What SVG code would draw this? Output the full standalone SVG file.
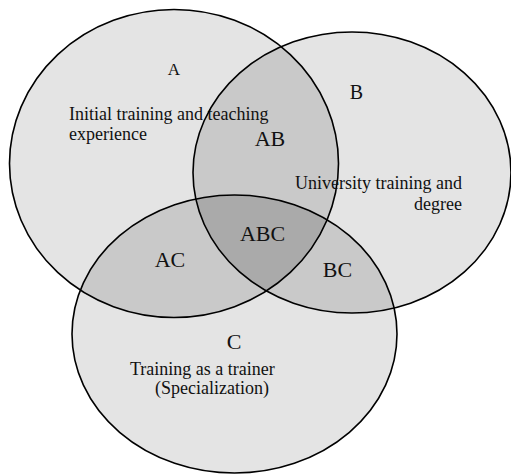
<svg xmlns="http://www.w3.org/2000/svg" width="511" height="475" viewBox="0 0 511 475">
<style>
.one{fill:#e4e4e4;stroke:none}
.two{fill:#c9c9c9;stroke:none}
.three{fill:#aaaaaa;stroke:none}
.edge{fill:none;stroke:#000;stroke-width:1.6}
text{font-family:"Liberation Serif","Times New Roman",serif;fill:#111}
.lab{font-size:22px;text-anchor:middle}
.desc{font-size:18px}
</style>
<defs>
<clipPath id="clipA"><ellipse cx="174" cy="163.5" rx="164.5" ry="154"/></clipPath>
<clipPath id="clipB"><ellipse cx="352" cy="172.5" rx="159" ry="140.5"/></clipPath>
<clipPath id="clipC"><ellipse cx="234.5" cy="334" rx="162.5" ry="139"/></clipPath>
</defs>
<rect width="511" height="475" fill="#fff"/>
<g id="fills">
<ellipse class="one" cx="174" cy="163.5" rx="164.5" ry="154"/>
<ellipse class="one" cx="352" cy="172.5" rx="159" ry="140.5"/>
<ellipse class="one" cx="234.5" cy="334" rx="162.5" ry="139"/>
</g>
<g id="overlaps">
<ellipse class="two" clip-path="url(#clipA)" cx="352" cy="172.5" rx="159" ry="140.5"/>
<ellipse class="two" clip-path="url(#clipA)" cx="234.5" cy="334" rx="162.5" ry="139"/>
<ellipse class="two" clip-path="url(#clipB)" cx="234.5" cy="334" rx="162.5" ry="139"/>
<g clip-path="url(#clipA)"><ellipse class="three" clip-path="url(#clipB)" cx="234.5" cy="334" rx="162.5" ry="139"/></g>
</g>
<g id="setA">
<ellipse class="edge" cx="174" cy="163.5" rx="164.5" ry="154"/>
<text style="font-size:17px;text-anchor:middle" x="174" y="75">A</text>
<text class="desc" x="69" y="120">Initial training and teaching</text>
<text class="desc" x="69" y="140">experience</text>
</g>
<g id="setB">
<ellipse class="edge" cx="352" cy="172.5" rx="159" ry="140.5"/>
<text style="font-size:20px;text-anchor:middle" x="356.5" y="98.5">B</text>
<text class="desc" style="text-anchor:end" x="462" y="188.5">University training and</text>
<text class="desc" style="text-anchor:end" x="462" y="209.5">degree</text>
</g>
<g id="setC">
<ellipse class="edge" cx="234.5" cy="334" rx="162.5" ry="139"/>
<text class="lab" x="234" y="349">C</text>
<text class="desc" x="130" y="375">Training as a trainer</text>
<text class="desc" x="155" y="394">(Specialization)</text>
</g>
<g id="regionAB"><text class="lab" x="270" y="146">AB</text></g>
<g id="regionABC"><text class="lab" x="262.5" y="241">ABC</text></g>
<g id="regionAC"><text class="lab" x="170" y="267">AC</text></g>
<g id="regionBC"><text class="lab" x="337.5" y="277">BC</text></g>
</svg>
